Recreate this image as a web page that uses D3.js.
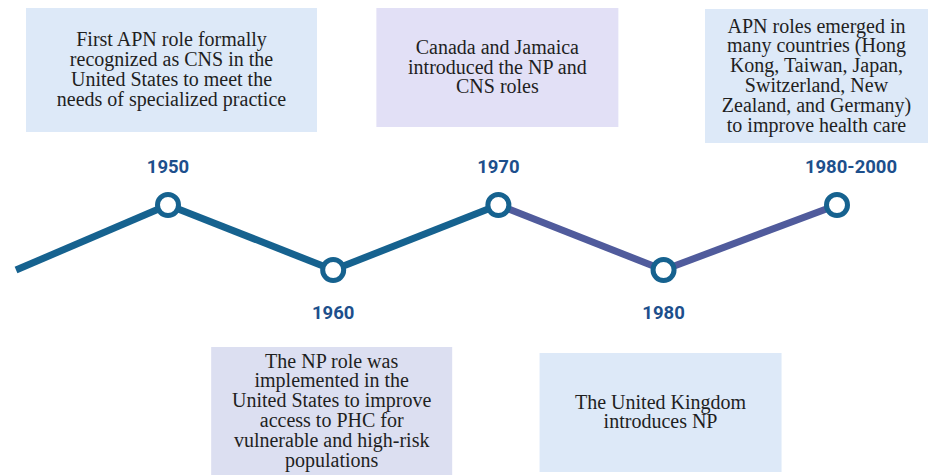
<!DOCTYPE html>
<html>
<head>
<meta charset="utf-8">
<script src="https://cdn.jsdelivr.net/npm/d3@7"></script>
<style>
  html, body { margin: 0; padding: 0; background: #fff; }
  svg { display: block; }
</style>
</head>
<body>
<svg id="chart"></svg>
<script>
// timeline data
var labels = ["", "1950", "1960", "1970", "1980", "1980-2000"];
var years = [1940.8, 1950, 1960, 1970, 1980, 1990.5];   // position on the time axis
var levels = ["down", "up", "down", "up", "down", "up"];
var era = ["early", "early", "early", "early", "late", "late"]; // colour of the segment ending here
var notes = [
    null,
    ["First APN role formally", "recognized as CNS in the", "United States to meet the", "needs of specialized practice"],
    ["The NP role was", "implemented in the", "United States to improve", "access to PHC for", "vulnerable and high-risk", "populations"],
    ["Canada and Jamaica", "introduced the NP and", "CNS roles"],
    ["The United Kingdom", "introduces NP"],
    ["APN roles emerged in", "many countries (Hong", "Kong, Taiwan, Japan,", "Switzerland, New", "Zealand, and Germany)", "to improve health care"]
];

// layout of the note boxes (top, height, width, fill), kept apart from data
var boxLayout = {
    1: { top: 8, h: 124, w: 291, fill: "#dde9f8" },
    2: { top: 347, h: 128, w: 241, fill: "#dcdff1" },
    3: { top: 8, h: 119, w: 242, fill: "#e2e0f6" },
    4: { top: 353, h: 119, w: 242, fill: "#dde9f8" },
    5: { top: 9, h: 134, w: 223, fill: "#dde9f8" }
};
var boxShift = { 1: 3.5, 2: -1.5, 3: -1, 4: -3, 5: -20.5 };

var W = 931, H = 475;
var svg = d3.select("#chart").attr("width", W).attr("height", H);

var scX = d3.scaleLinear().domain([1950, 1990.5]).range([168, 837]);
var scY = d3.scalePoint().domain(["up", "down"]).range([205, 270]);
var colour = d3.scaleOrdinal().domain(["early", "late"]).range(["#16628f", "#505b9c"]);

var pts = years.map(function (y, i) {
    return { x: scX(y), y: scY(levels[i]), label: labels[i], level: levels[i], era: era[i], note: notes[i], i: i };
});

// note boxes
var boxes = svg.append("g").attr("id", "notes")
    .selectAll("g")
    .data(pts.filter(d => d.note))
    .enter().append("g");

boxes.append("rect")
    .attr("x", d => d.x + boxShift[d.i] - boxLayout[d.i].w / 2)
    .attr("y", d => boxLayout[d.i].top)
    .attr("width", d => boxLayout[d.i].w)
    .attr("height", d => boxLayout[d.i].h)
    .attr("fill", d => boxLayout[d.i].fill);

var lh = 19.8;
boxes.append("text")
    .attr("font-family", "'Liberation Serif', 'Times New Roman', serif")
    .attr("font-size", 20)
    .attr("fill", "#1f1f1f")
    .attr("text-anchor", "middle")
    .each(function (d) {
        var b = boxLayout[d.i];
        var cx = d.x + boxShift[d.i];
        var cy = b.top + b.h / 2;
        var first = cy - (d.note.length - 1) * lh / 2;
        d3.select(this).selectAll("tspan")
            .data(d.note).enter().append("tspan")
            .attr("x", cx)
            .attr("y", (t, k) => first + k * lh)
            .attr("dy", "0.3em")
            .text(t => t);
    });

// timeline segments
var seg = svg.append("g").attr("id", "line");
var lineMaker = d3.line().x(d => d.x).y(d => d.y);
d3.pairs(pts).forEach(function (p) {
    seg.append("path")
        .attr("fill", "none")
        .attr("stroke", colour(p[1].era))
        .attr("stroke-width", 7)
        .attr("d", lineMaker(p));
});

// nodes
svg.append("g").attr("id", "nodes")
    .selectAll("circle")
    .data(pts.filter(d => d.label))
    .enter().append("circle")
    .attr("cx", d => d.x).attr("cy", d => d.y)
    .attr("r", 10.5)
    .attr("fill", "#fff")
    .attr("stroke", "#16628f")
    .attr("stroke-width", 5);

// year labels
svg.append("g").attr("id", "years")
    .selectAll("text")
    .data(pts.filter(d => d.label))
    .enter().append("text")
    .attr("x", d => d.x + (d.i === 5 ? 14 : 0))
    .attr("y", d => d.level === "up" ? 173 : 319)
    .attr("text-anchor", "middle")
    .attr("font-family", "Roboto, 'Open Sans', sans-serif")
    .attr("font-weight", "bold")
    .attr("font-size", 18.5)
    .attr("fill", "#1d4f8c")
    .text(d => d.label);
</script>
</body>
</html>
